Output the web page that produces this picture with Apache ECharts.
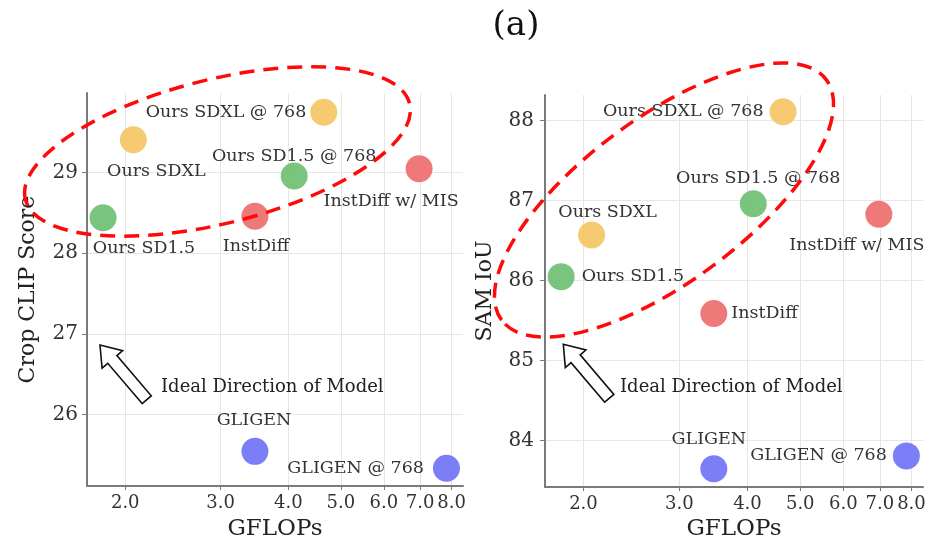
<!DOCTYPE html>
<html><head><meta charset="utf-8">
<script src="https://cdn.jsdelivr.net/npm/echarts@6/dist/echarts.min.js"></script>
<style>html,body{margin:0;padding:0;background:#fff}#c{width:930px;height:546px}</style>
</head><body><div id="c"></div>
<script>
// ---- data ----
const models = ['Ours SD1.5', 'Ours SD1.5 @ 768', 'Ours SDXL', 'Ours SDXL @ 768', 'InstDiff', 'InstDiff w/ MIS', 'GLIGEN', 'GLIGEN @ 768'];
const gflops = [1.82, 4.10, 2.07, 4.65, 3.47, 6.97, 3.47, 7.83];
const cropClip = [28.44, 28.96, 29.41, 29.75, 28.46, 29.05, 25.54, 25.33];
const samIou = [86.05, 86.96, 86.57, 88.11, 85.59, 86.83, 83.65, 83.81];
const xTicks = [2, 3, 4, 5, 6, 7, 8];
const clipTicks = [26, 27, 28, 29];
const iouTicks = [84, 85, 86, 87, 88];

// ---- styles ----
const colors = ['#6fbf73', '#6fbf73', '#f5c564', '#f5c564', '#ee6c6e', '#ee6c6e', '#7073f5', '#7073f5'];
const leftLabels = [
  {position: 'bottom', offset: [41, 3]},
  {position: 'top', offset: [0, 8]},
  {position: 'bottom', offset: [23, 4]},
  {position: 'left', distance: 4},
  {position: 'bottom', offset: [1, 3]},
  {position: 'bottom', offset: [-28, 5]},
  {position: 'top', offset: [-1, -3]},
  {position: 'left', distance: 9}
];
const rightLabels = [
  {position: 'right', distance: 7},
  {position: 'top', offset: [5, 2]},
  {position: 'top', offset: [16, 5]},
  {position: 'left', distance: 6},
  {position: 'right', distance: 4},
  {position: 'bottom', offset: [-22, 4]},
  {position: 'top', offset: [-5, -2]},
  {position: 'left', distance: 6}
];
const FONT = 'DejaVu Serif';
const TXT = '#222';
const AX = '#7a7a7a';
const GRIDC = '#e6e6e6';

const lnTicks = xTicks.map(v => Math.log(v));

function xAxisCfg(gridIndex, nameGap) {
  return {
    type: 'value', gridIndex,
    min: Math.log(1.7), max: Math.log(8.4),
    name: 'GFLOPs', nameLocation: 'middle', nameGap,
    nameTextStyle: {fontFamily: FONT, fontSize: 23, color: TXT},
    axisLine: {show: true, lineStyle: {color: AX, width: 2}},
    axisTick: {show: true, length: 4, lineStyle: {color: AX}, customValues: lnTicks},
    axisLabel: {customValues: lnTicks, margin: 8, fontFamily: FONT, fontSize: 18, color: '#333',
      formatter: v => Math.exp(v).toFixed(1)},
    splitLine: {show: true, lineStyle: {color: GRIDC, width: 1}, customValues: lnTicks}
  };
}
function yAxisCfg(gridIndex, name, min, max, ticks, nameGap, margin) {
  return {
    type: 'value', gridIndex, min, max,
    name, nameLocation: 'middle', nameGap,
    nameTextStyle: {fontFamily: FONT, fontSize: 22, color: TXT},
    axisLine: {show: true, lineStyle: {color: AX, width: 2}},
    axisTick: {show: true, length: 5, lineStyle: {color: AX}, customValues: ticks},
    axisLabel: {customValues: ticks, margin, fontFamily: FONT, fontSize: 20, color: '#333'},
    splitLine: {show: true, lineStyle: {color: GRIDC, width: 1}, customValues: ticks}
  };
}
function buildData(yvals, layouts) {
  return models.map((m, i) => ({
    name: m,
    value: [Math.log(gflops[i]), yvals[i]],
    itemStyle: {color: colors[i], opacity: 0.92},
    label: Object.assign({show: true, formatter: m, fontFamily: FONT, fontSize: 17.5, color: TXT}, layouts[i])
  }));
}
function arrowPoints(tail, tip, shaftW, headW, headL) {
  const dx = tip[0] - tail[0], dy = tip[1] - tail[1];
  const L = Math.hypot(dx, dy), ux = dx / L, uy = dy / L, px = -uy, py = ux;
  const pts = [[0, -shaftW / 2], [L - headL, -shaftW / 2], [L - headL, -headW / 2], [L, 0],
               [L - headL, headW / 2], [L - headL, shaftW / 2], [0, shaftW / 2]];
  return pts.map(([a, b]) => [tail[0] + ux * a + px * b, tail[1] + uy * a + py * b]);
}
const dashStyle = {fill: 'none', stroke: '#ff0a0a', lineWidth: 3.5, lineDash: [15, 9]};

const chart = echarts.init(document.getElementById('c'), null, {renderer: 'canvas'});
chart.setOption({
  backgroundColor: '#fff',
  animation: false,
  grid: [
    {left: 87, top: 93, width: 376, height: 398},
    {left: 545, top: 95, width: 378, height: 396}
  ],
  xAxis: [xAxisCfg(0, 32), xAxisCfg(1, 29)],
  yAxis: [
    yAxisCfg(0, 'Crop CLIP Score', 25.11, 29.99, clipTicks, 48, 9),
    yAxisCfg(1, 'SAM IoU', 83.42, 88.32, iouTicks, 49, 11)
  ],
  series: [
    {type: 'scatter', xAxisIndex: 0, yAxisIndex: 0, symbolSize: 27, data: buildData(cropClip, leftLabels)},
    {type: 'scatter', xAxisIndex: 1, yAxisIndex: 1, symbolSize: 27, data: buildData(samIou, rightLabels)}
  ],
  graphic: [
    {type: 'text', x: 516, y: 26, style: {text: '(a)', font: '34px "DejaVu Serif"', fill: '#111', align: 'center', verticalAlign: 'middle'}, z: 100},
    {type: 'ellipse', x: 217.5, y: 151.5, rotation: 14 * Math.PI / 180, shape: {cx: 0, cy: 0, rx: 198, ry: 72}, style: dashStyle, z: 100},
    {type: 'ellipse', x: 664, y: 200, rotation: 36.5 * Math.PI / 180, shape: {cx: 0, cy: 0, rx: 202, ry: 82}, style: dashStyle, z: 100},
    {type: 'polygon', shape: {points: arrowPoints([146.7, 399.7], [100, 345], 12, 27, 19)}, style: {fill: '#fff', stroke: '#111', lineWidth: 1.6}, z: 100},
    {type: 'polygon', shape: {points: arrowPoints([609.3, 398.3], [563.3, 344.3], 12, 27, 19)}, style: {fill: '#fff', stroke: '#111', lineWidth: 1.6}, z: 100},
    {type: 'text', x: 161, y: 387, style: {text: 'Ideal Direction of Model', font: '18px "DejaVu Serif"', fill: TXT, verticalAlign: 'middle'}, z: 100},
    {type: 'text', x: 620, y: 387, style: {text: 'Ideal Direction of Model', font: '18px "DejaVu Serif"', fill: TXT, verticalAlign: 'middle'}, z: 100}
  ]
});
</script>
</body></html>
